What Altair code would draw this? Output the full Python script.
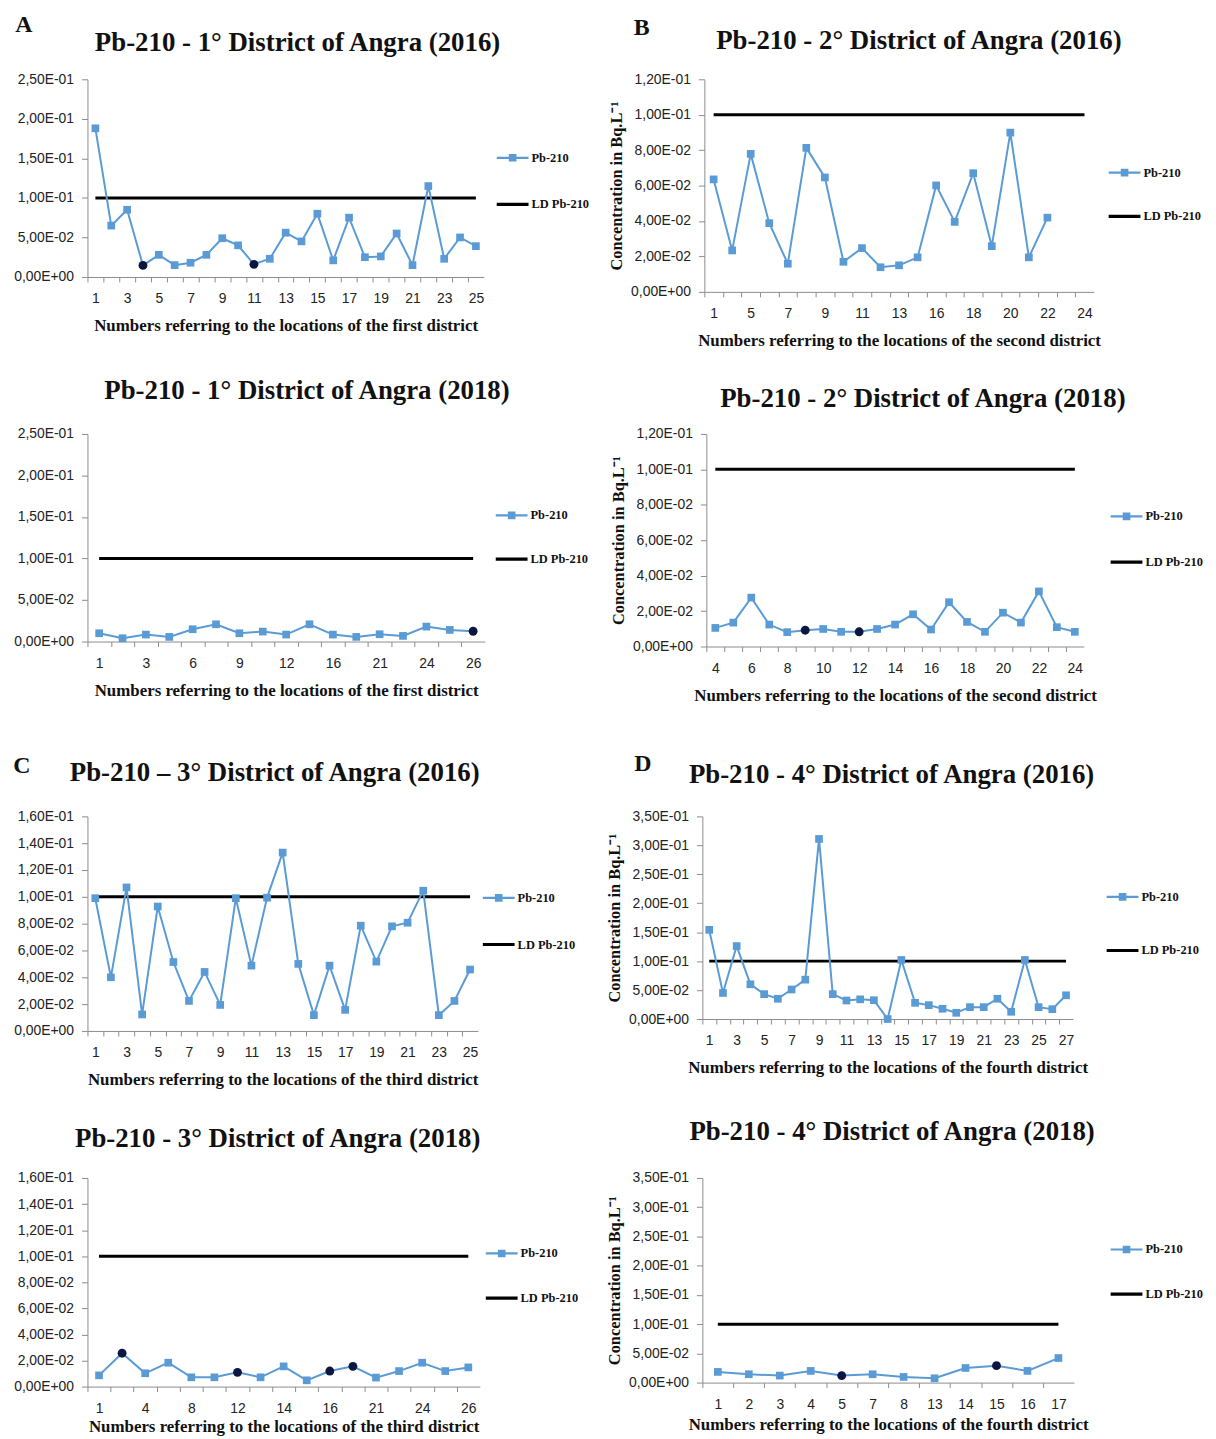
import altair as alt
import pandas as pd

BLUE = "#5B9BD5"
NAVY = "#0B1740"
SERIF = "Liberation Serif"
SANS = "Liberation Sans"
LD_LEVEL = 0.1

# ---------------- Panel A (2016) : 1st district ----------------
a16_locs = [str(i) for i in range(1, 26)]
a16_vals = [0.188, 0.065, 0.085, 0.0146, 0.028, 0.015, 0.018, 0.028, 0.049, 0.040,
            0.016, 0.023, 0.056, 0.045, 0.080, 0.021, 0.075, 0.025, 0.026, 0.055,
            0.015, 0.115, 0.023, 0.050, 0.039]
a16_dark = ["4", "11"]
a16_shown = [str(i) for i in range(1, 26, 2)]

# ---------------- Panel A (2018) ----------------
a18_locs = ["1", "2", "3", "4", "6", "7", "9", "10", "12", "14", "16", "18", "21", "23", "24", "25", "26"]
a18_vals = [0.010, 0.004, 0.0084, 0.0056, 0.0148, 0.0208, 0.010, 0.012, 0.0084, 0.0208,
            0.0084, 0.0056, 0.0088, 0.0068, 0.018, 0.014, 0.0124]
a18_dark = ["26"]
a18_shown = ["1", "3", "6", "9", "12", "16", "21", "24", "26"]
a_yticks = [0, 0.05, 0.10, 0.15, 0.20, 0.25]

# ---------------- Panel B (2016) : 2nd district ----------------
b16_locs = ["1", "3", "5", "6", "7", "8", "9", "10", "11", "12", "13", "15", "16", "17",
            "18", "19", "20", "21", "22", "23", "24"]
b16_vals = [0.0635, 0.0234, 0.0779, 0.0388, 0.0159, 0.0813, 0.0646, 0.0170, 0.0247, 0.0139,
            0.0150, 0.0195, 0.0601, 0.0395, 0.0670, 0.0258, 0.0899, 0.0195, 0.0419]
b16_dark = []
b16_shown = ["1", "5", "7", "9", "11", "13", "16", "18", "20", "22", "24"]

# ---------------- Panel B (2018) ----------------
b18_locs = [str(i) for i in range(4, 25)]
b18_vals = [0.0105, 0.0135, 0.0276, 0.0124, 0.0081, 0.0092, 0.0099, 0.0083, 0.0083, 0.0099,
            0.0124, 0.0182, 0.0096, 0.025, 0.0139, 0.0083, 0.0191, 0.0135, 0.0311, 0.0109, 0.0083]
b18_dark = ["9", "12"]
b18_shown = [str(i) for i in range(4, 25, 2)]
b_yticks = [0, 0.02, 0.04, 0.06, 0.08, 0.10, 0.12]

# ---------------- Panel C (2016) : 3rd district ----------------
c16_locs = [str(i) for i in range(1, 26)]
c16_vals = [0.099, 0.040, 0.107, 0.0123, 0.0928, 0.0514, 0.0224, 0.044, 0.0194, 0.099,
            0.0487, 0.0994, 0.133, 0.050, 0.0118, 0.0487, 0.0157, 0.0785, 0.0517, 0.078,
            0.0807, 0.1046, 0.0118, 0.0224, 0.0458]
c16_dark = []
c16_shown = [str(i) for i in range(1, 26, 2)]

# ---------------- Panel C (2018) ----------------
c18_locs = ["1", "3", "4", "6", "8", "10", "12", "13", "14", "15", "16", "18", "21", "22", "24", "25", "26"]
c18_vals = [0.0086, 0.0256, 0.0102, 0.0183, 0.0071, 0.0071, 0.0109, 0.0071, 0.0155, 0.0048,
            0.0119, 0.0155, 0.0069, 0.0119, 0.0183, 0.0119, 0.0147]
c18_dark = ["3", "12", "16", "18"]
c18_shown = ["1", "4", "8", "12", "14", "16", "21", "24", "26"]
c_yticks = [0, 0.02, 0.04, 0.06, 0.08, 0.10, 0.12, 0.14, 0.16]

# ---------------- Panel D (2016) : 4th district ----------------
d16_locs = [str(i) for i in range(1, 28)]
d16_vals = [0.154, 0.045, 0.126, 0.060, 0.043, 0.035, 0.051, 0.068, 0.311, 0.043,
            0.032, 0.034, 0.0325, 0.000, 0.102, 0.028, 0.024, 0.0177, 0.0108, 0.0205,
            0.0205, 0.035, 0.0125, 0.102, 0.0205, 0.017, 0.041]
d16_dark = []
d16_shown = [str(i) for i in range(1, 28, 2)]

# ---------------- Panel D (2018) ----------------
d18_locs = ["1", "2", "3", "4", "5", "7", "8", "13", "14", "15", "16", "17"]
d18_vals = [0.0183, 0.0143, 0.012, 0.020, 0.012, 0.0143, 0.0097, 0.0074, 0.025, 0.029, 0.020, 0.042]
d18_dark = ["5", "15"]
d18_shown = list(d18_locs)
d_yticks = [0, 0.05, 0.10, 0.15, 0.20, 0.25, 0.30, 0.35]

SERIES = ["Pb-210", "LD Pb-210"]
LEG_SHAPES = ["M-1,-0.07H1V0.07H-1Z M-0.24,-0.24H0.24V0.24H-0.24Z", "M-1,-0.1H1V0.1H-1Z"]

YFMT = ("datum.value == 0 ? '0,00E+00' : "
        "replace(format(datum.value / pow(10, floor(log(datum.value) / LN10 + 1e-9)), '.2f'), '.', ',')"
        " + (floor(log(datum.value) / LN10 + 1e-9) < 0 ? 'E-0' : 'E+0')"
        " + abs(floor(log(datum.value) / LN10 + 1e-9))")

CONC = "Concentration in Bq.L\u207b\u00b9"


def make_panel(letter, title, locs, vals, dark, shown, yticks, xtitle, ytitle,
               w, h, leg_dx, leg_y, leg_gap, title_xy, letter_xy, xt_pad=12):
    pb = pd.DataFrame({"loc": locs[:len(vals)], "value": vals})
    pb["dark"] = pb["loc"].isin(dark)
    ld = pd.DataFrame({"loc": locs, "value": [LD_LEVEL] * len(locs)})
    step = w / len(locs)
    shown_js = "[" + ",".join("'" + s + "'" for s in shown) + "]"
    xaxis = alt.Axis(title=xtitle, labelExpr="indexof(" + shown_js + ", datum.value) >= 0 ? datum.label : ''",
                     tickOffset=-step / 2, labelOffset=step / 2, labelAngle=0,
                     titleFont=SERIF, titleFontWeight="bold", titleFontSize=17, titleColor="#111",
                     titlePadding=xt_pad, labelPadding=10, tickSize=5)
    yaxis_kw = dict(values=yticks, labelExpr=YFMT, grid=False, tickSize=6, labelPadding=8)
    if ytitle:
        yaxis_kw.update(title=ytitle, titleFont=SERIF, titleFontWeight="bold", titleFontSize=16.5,
                        titleColor="#111", titlePadding=6)
    else:
        yaxis_kw.update(title=None)
    xenc = alt.X("loc:N", sort=locs, scale=alt.Scale(type="point", domain=locs, padding=0.5), axis=xaxis)
    yenc = alt.Y("value:Q", scale=alt.Scale(domain=[0, yticks[-1]], nice=False), axis=alt.Axis(**yaxis_kw))

    ld_line = alt.Chart(ld).mark_line(color="black", strokeWidth=3).encode(x=xenc, y=yenc)
    pb_line = alt.Chart(pb).mark_line(color=BLUE, strokeWidth=2).encode(x=xenc, y=yenc)
    sq = alt.Chart(pb).transform_filter("!datum.dark").mark_point(
        shape="square", filled=True, color=BLUE, size=60, opacity=1).encode(x=xenc, y=yenc)
    dk = alt.Chart(pb).transform_filter("datum.dark").mark_point(
        shape="circle", filled=True, color=NAVY, size=80, opacity=1).encode(x=xenc, y=yenc)

    leg = alt.Legend(title=None, orient="none", legendX=w + leg_dx, legendY=leg_y,
                     symbolSize=1024, symbolStrokeWidth=0, symbolOpacity=1, padding=0,
                     labelFont=SERIF, labelFontWeight="bold", labelFontSize=12.5, labelColor="#111",
                     rowPadding=leg_gap, labelOffset=3)
    legend_layer = alt.Chart(pd.DataFrame({"series": SERIES})).transform_filter("false").mark_point(
        filled=True, size=1024).encode(
        color=alt.Color("series:N", scale=alt.Scale(domain=SERIES, range=[BLUE, "black"]), legend=leg),
        shape=alt.Shape("series:N", scale=alt.Scale(domain=SERIES, range=LEG_SHAPES), legend=leg),
    )
    title_layer = alt.Chart(pd.DataFrame({"title": [title]})).mark_text(
        font=SERIF, fontWeight="bold", fontSize=27, color="#111", align="center", baseline="middle").encode(
        text="title:N", x=alt.value(w / 2 + title_xy[0]), y=alt.value(title_xy[1]))
    layers = [ld_line, pb_line, sq, dk, legend_layer, title_layer]
    if letter:
        lt = alt.Chart(pd.DataFrame({"panel": [letter]})).mark_text(
            font=SERIF, fontWeight="bold", fontSize=24, color="#111", align="center", baseline="middle").encode(
            text="panel:N", x=alt.value(letter_xy[0]), y=alt.value(letter_xy[1]))
        layers.append(lt)
    return alt.layer(*layers).properties(width=w, height=h)


pA16 = make_panel("A", "Pb-210 - 1\u00b0 District of Angra (2016)", a16_locs, a16_vals, a16_dark, a16_shown,
                  a_yticks, "Numbers referring to the locations of the first district", None,
                  399, 199, 13, 63, 24, (12, -36), (-64, -55))
pB16 = make_panel("B", "Pb-210 - 2\u00b0 District of Angra (2016)", b16_locs, b16_vals, b16_dark, b16_shown,
                  b_yticks, "Numbers referring to the locations of the second district", CONC,
                  392, 214, 15, 78, 21, (20, -38), (-63, -52))
pA18 = make_panel(None, "Pb-210 - 1\u00b0 District of Angra (2018)", a18_locs, a18_vals, a18_dark, a18_shown,
                  a_yticks, "Numbers referring to the locations of the first district", None,
                  400, 209, 11, 66, 21, (21, -43), None)
pB18 = make_panel(None, "Pb-210 - 2\u00b0 District of Angra (2018)", b18_locs, b18_vals, b18_dark, b18_shown,
                  b_yticks, "Numbers referring to the locations of the second district", CONC,
                  380, 214, 27, 67, 23, (28, -35), None)
pC16 = make_panel("C", "Pb-210 \u2013 3\u00b0 District of Angra (2016)", c16_locs, c16_vals, c16_dark, c16_shown,
                  c_yticks, "Numbers referring to the locations of the third district", None,
                  393, 216, 5, 66, 24, (-8, -44), (-66, -51))
pD16 = make_panel("D", "Pb-210 - 4\u00b0 District of Angra (2016)", d16_locs, d16_vals, d16_dark, d16_shown,
                  d_yticks, "Numbers referring to the locations of the fourth district", CONC,
                  373, 204, 34, 65, 31, (4, -42), (-60, -53))
pC18 = make_panel(None, "Pb-210 - 3\u00b0 District of Angra (2018)", c18_locs, c18_vals, c18_dark, c18_shown,
                  c_yticks, "Numbers referring to the locations of the third district", None,
                  395, 210, 6, 60, 22, (-6, -39), None, xt_pad=3)
pD18 = make_panel(None, "Pb-210 - 4\u00b0 District of Angra (2018)", d18_locs, d18_vals, d18_dark, d18_shown,
                  d_yticks, "Numbers referring to the locations of the fourth district", CONC,
                  374, 206, 37, 56, 22, (4, -46), None, xt_pad=5)


def indep(c):
    return c.resolve_scale(color="independent", shape="independent").resolve_legend(
        color="independent", shape="independent")


row1 = indep(alt.hconcat(pA16, pB16, spacing=19))
row2 = indep(alt.hconcat(pA18, pB18, spacing=22))
row3 = indep(alt.hconcat(pC16, pD16, spacing=31))
row4 = indep(alt.hconcat(pC18, pD18, spacing=28))

chart = indep(alt.vconcat(
    indep(alt.vconcat(row1, row2, spacing=29)),
    indep(alt.vconcat(row3, row4, spacing=31)),
    spacing=49,
)).configure_view(stroke=None).configure_axis(
    domainColor="#8c8c8c", tickColor="#8c8c8c", labelColor="#222", labelFont=SANS, labelFontSize=14,
    grid=False,
).properties(padding={"left": 5, "top": 0, "right": 5, "bottom": 0})

chart.save("out.html", embed_options={"renderer": "svg", "actions": False})
